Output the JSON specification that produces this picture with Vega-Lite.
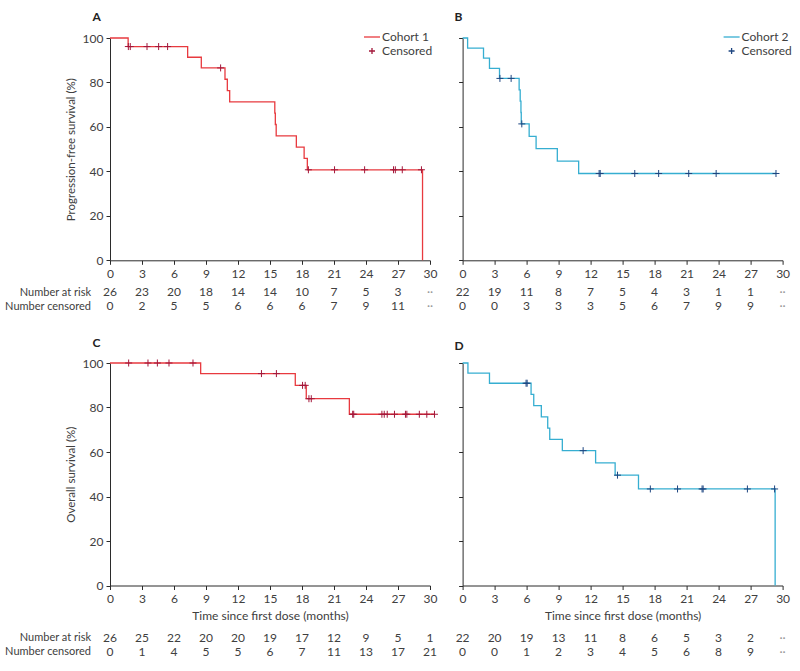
{
  "$schema": "https://vega.github.io/schema/vega-lite/v6.json",
  "padding": {"left": 4, "top": 11, "right": 5, "bottom": 5},
  "autosize": {"type": "pad"},
  "config": {
    "font": "Lato",
    "view": {"stroke": null},
    "axis": {"grid": false, "domainColor": "#2b2b2b", "tickColor": "#2b2b2b", "tickSize": 4, "labelFontSize": 12, "labelColor": "#404040", "titleFontSize": 12, "titleFontWeight": "normal", "titleColor": "#404040", "labelFont": "Lato", "titleFont": "Lato", "labelOverlap": false},
    "title": {"fontSize": 12, "fontWeight": "bold", "anchor": "start", "frame": "group", "color": "#222222", "font": "Lato"},
    "legend": {"labelFontSize": 12, "labelColor": "#404040", "symbolSize": 36, "symbolStrokeWidth": 1.3, "rowPadding": 2, "labelFont": "Lato"}
  },
  "datasets": {
    "A_curve": [
      {"t": 0, "s": 100}, {"t": 1.7, "s": 96.15}, {"t": 7.28, "s": 91.35}, {"t": 8.56, "s": 86.54},
      {"t": 10.78, "s": 81.45}, {"t": 11.0, "s": 76.36}, {"t": 11.22, "s": 71.27}, {"t": 15.45, "s": 66.18},
      {"t": 15.5, "s": 61.09}, {"t": 15.58, "s": 56.0}, {"t": 17.47, "s": 50.91}, {"t": 18.2, "s": 45.81},
      {"t": 18.5, "s": 40.72}, {"t": 29.3, "s": 0}
    ],
    "A_cens": [
      {"t": 1.72, "s": 96.15}, {"t": 1.9, "s": 96.15}, {"t": 3.47, "s": 96.15}, {"t": 4.56, "s": 96.15},
      {"t": 5.4, "s": 96.15}, {"t": 10.37, "s": 86.54}, {"t": 18.6, "s": 40.72}, {"t": 21.05, "s": 40.72},
      {"t": 23.87, "s": 40.72}, {"t": 26.58, "s": 40.72}, {"t": 26.75, "s": 40.72}, {"t": 27.4, "s": 40.72},
      {"t": 29.2, "s": 40.72}
    ],
    "B_curve": [
      {"t": 0, "s": 100}, {"t": 0.47, "s": 95.45}, {"t": 1.96, "s": 90.91}, {"t": 2.52, "s": 86.36},
      {"t": 3.46, "s": 81.82}, {"t": 5.3, "s": 76.7}, {"t": 5.4, "s": 71.59}, {"t": 5.47, "s": 66.48},
      {"t": 5.5, "s": 61.36}, {"t": 6.24, "s": 55.79}, {"t": 6.89, "s": 50.21}, {"t": 8.88, "s": 44.63},
      {"t": 10.88, "s": 39.05}, {"t": 29.38, "s": 39.05}
    ],
    "B_cens": [
      {"t": 3.5, "s": 81.82}, {"t": 4.55, "s": 81.82}, {"t": 5.55, "s": 61.36}, {"t": 12.8, "s": 39.05},
      {"t": 12.9, "s": 39.05}, {"t": 16.14, "s": 39.05}, {"t": 18.38, "s": 39.05}, {"t": 21.2, "s": 39.05},
      {"t": 23.77, "s": 39.05}, {"t": 29.38, "s": 39.05}
    ],
    "C_curve": [
      {"t": 0, "s": 100}, {"t": 8.5, "s": 95.24}, {"t": 17.37, "s": 89.95}, {"t": 18.4, "s": 83.95},
      {"t": 22.44, "s": 76.96}, {"t": 30.42, "s": 76.96}
    ],
    "C_cens": [
      {"t": 1.75, "s": 100}, {"t": 3.56, "s": 100}, {"t": 4.44, "s": 100}, {"t": 5.53, "s": 100},
      {"t": 7.78, "s": 100}, {"t": 14.2, "s": 95.24}, {"t": 15.6, "s": 95.24}, {"t": 18.05, "s": 89.95},
      {"t": 18.3, "s": 89.95}, {"t": 18.65, "s": 83.95}, {"t": 18.87, "s": 83.95}, {"t": 22.75, "s": 76.96},
      {"t": 22.85, "s": 76.96}, {"t": 25.49, "s": 76.96}, {"t": 25.71, "s": 76.96}, {"t": 25.99, "s": 76.96},
      {"t": 26.67, "s": 76.96}, {"t": 27.7, "s": 76.96}, {"t": 27.83, "s": 76.96}, {"t": 29.0, "s": 76.96},
      {"t": 29.7, "s": 76.96}, {"t": 30.42, "s": 76.96}
    ],
    "D_curve": [
      {"t": 0, "s": 100}, {"t": 0.5, "s": 95.45}, {"t": 2.52, "s": 90.91}, {"t": 6.42, "s": 85.86},
      {"t": 6.67, "s": 80.81}, {"t": 7.38, "s": 75.76}, {"t": 7.98, "s": 70.71}, {"t": 8.17, "s": 65.66},
      {"t": 9.35, "s": 60.61}, {"t": 12.47, "s": 55.1}, {"t": 14.3, "s": 49.59}, {"t": 16.49, "s": 43.39},
      {"t": 29.3, "s": 0}
    ],
    "D_cens": [
      {"t": 5.95, "s": 90.91}, {"t": 6.05, "s": 90.91}, {"t": 11.3, "s": 60.61}, {"t": 14.52, "s": 49.59},
      {"t": 17.6, "s": 43.39}, {"t": 20.15, "s": 43.39}, {"t": 22.45, "s": 43.39}, {"t": 22.55, "s": 43.39},
      {"t": 26.7, "s": 43.39}, {"t": 29.25, "s": 43.39}
    ],
    "A_table": [
      {"t": 0, "row": "Number at risk", "n": "26"}, {"t": 3, "row": "Number at risk", "n": "23"},
      {"t": 6, "row": "Number at risk", "n": "20"}, {"t": 9, "row": "Number at risk", "n": "18"},
      {"t": 12, "row": "Number at risk", "n": "14"}, {"t": 15, "row": "Number at risk", "n": "14"},
      {"t": 18, "row": "Number at risk", "n": "10"}, {"t": 21, "row": "Number at risk", "n": "7"},
      {"t": 24, "row": "Number at risk", "n": "5"}, {"t": 27, "row": "Number at risk", "n": "3"},
      {"t": 30, "row": "Number at risk", "n": "··"},
      {"t": 0, "row": "Number censored", "n": "0"}, {"t": 3, "row": "Number censored", "n": "2"},
      {"t": 6, "row": "Number censored", "n": "5"}, {"t": 9, "row": "Number censored", "n": "5"},
      {"t": 12, "row": "Number censored", "n": "6"}, {"t": 15, "row": "Number censored", "n": "6"},
      {"t": 18, "row": "Number censored", "n": "6"}, {"t": 21, "row": "Number censored", "n": "7"},
      {"t": 24, "row": "Number censored", "n": "9"}, {"t": 27, "row": "Number censored", "n": "11"},
      {"t": 30, "row": "Number censored", "n": "··"}
    ],
    "B_table": [
      {"t": 0, "row": "Number at risk", "n": "22"}, {"t": 3, "row": "Number at risk", "n": "19"},
      {"t": 6, "row": "Number at risk", "n": "11"}, {"t": 9, "row": "Number at risk", "n": "8"},
      {"t": 12, "row": "Number at risk", "n": "7"}, {"t": 15, "row": "Number at risk", "n": "5"},
      {"t": 18, "row": "Number at risk", "n": "4"}, {"t": 21, "row": "Number at risk", "n": "3"},
      {"t": 24, "row": "Number at risk", "n": "1"}, {"t": 27, "row": "Number at risk", "n": "1"},
      {"t": 30, "row": "Number at risk", "n": "··"},
      {"t": 0, "row": "Number censored", "n": "0"}, {"t": 3, "row": "Number censored", "n": "0"},
      {"t": 6, "row": "Number censored", "n": "3"}, {"t": 9, "row": "Number censored", "n": "3"},
      {"t": 12, "row": "Number censored", "n": "3"}, {"t": 15, "row": "Number censored", "n": "5"},
      {"t": 18, "row": "Number censored", "n": "6"}, {"t": 21, "row": "Number censored", "n": "7"},
      {"t": 24, "row": "Number censored", "n": "9"}, {"t": 27, "row": "Number censored", "n": "9"},
      {"t": 30, "row": "Number censored", "n": "··"}
    ],
    "C_table": [
      {"t": 0, "row": "Number at risk", "n": "26"}, {"t": 3, "row": "Number at risk", "n": "25"},
      {"t": 6, "row": "Number at risk", "n": "22"}, {"t": 9, "row": "Number at risk", "n": "20"},
      {"t": 12, "row": "Number at risk", "n": "20"}, {"t": 15, "row": "Number at risk", "n": "19"},
      {"t": 18, "row": "Number at risk", "n": "17"}, {"t": 21, "row": "Number at risk", "n": "12"},
      {"t": 24, "row": "Number at risk", "n": "9"}, {"t": 27, "row": "Number at risk", "n": "5"},
      {"t": 30, "row": "Number at risk", "n": "1"},
      {"t": 0, "row": "Number censored", "n": "0"}, {"t": 3, "row": "Number censored", "n": "1"},
      {"t": 6, "row": "Number censored", "n": "4"}, {"t": 9, "row": "Number censored", "n": "5"},
      {"t": 12, "row": "Number censored", "n": "5"}, {"t": 15, "row": "Number censored", "n": "6"},
      {"t": 18, "row": "Number censored", "n": "7"}, {"t": 21, "row": "Number censored", "n": "11"},
      {"t": 24, "row": "Number censored", "n": "13"}, {"t": 27, "row": "Number censored", "n": "17"},
      {"t": 30, "row": "Number censored", "n": "21"}
    ],
    "D_table": [
      {"t": 0, "row": "Number at risk", "n": "22"}, {"t": 3, "row": "Number at risk", "n": "20"},
      {"t": 6, "row": "Number at risk", "n": "19"}, {"t": 9, "row": "Number at risk", "n": "13"},
      {"t": 12, "row": "Number at risk", "n": "11"}, {"t": 15, "row": "Number at risk", "n": "8"},
      {"t": 18, "row": "Number at risk", "n": "6"}, {"t": 21, "row": "Number at risk", "n": "5"},
      {"t": 24, "row": "Number at risk", "n": "3"}, {"t": 27, "row": "Number at risk", "n": "2"},
      {"t": 30, "row": "Number at risk", "n": "··"},
      {"t": 0, "row": "Number censored", "n": "0"}, {"t": 3, "row": "Number censored", "n": "0"},
      {"t": 6, "row": "Number censored", "n": "1"}, {"t": 9, "row": "Number censored", "n": "2"},
      {"t": 12, "row": "Number censored", "n": "3"}, {"t": 15, "row": "Number censored", "n": "4"},
      {"t": 18, "row": "Number censored", "n": "5"}, {"t": 21, "row": "Number censored", "n": "6"},
      {"t": 24, "row": "Number censored", "n": "8"}, {"t": 27, "row": "Number censored", "n": "9"},
      {"t": 30, "row": "Number censored", "n": "··"}
    ]
  },
  "columns": 2,
  "bounds": "flush",
  "spacing": {"row": 20, "column": 32.6},
  "resolve": {"scale": {"color": "independent", "shape": "independent", "x": "independent", "y": "independent"}},
  "concat": [
    {
      "width": 320, "height": 222.3,
      "title": {"text": "A", "dx": -17.4, "offset": 7},
      "layer": [
        {
          "data": {"name": "A_curve"},
          "mark": {"type": "line", "interpolate": "step-after", "strokeWidth": 1.3},
          "encoding": {
            "x": {"field": "t", "type": "quantitative", "scale": {"domain": [0, 30], "nice": false}, "axis": {"values": [0, 3, 6, 9, 12, 15, 18, 21, 24, 27, 30], "tickCount": 12, "title": null, "labelPadding": 4, "labelFlush": false, "labelOverlap": false}},
            "y": {"field": "s", "type": "quantitative", "scale": {"domain": [0, 100]}, "axis": {"values": [0, 20, 40, 60, 80, 100], "tickCount": 6, "title": "Progression-free survival (%)", "titlePadding": 6, "labelPadding": 3, "titleFontSize": 11.5, "labelOverlap": false}},
            "color": {"datum": "Cohort 1", "scale": {"domain": ["Cohort 1", "Censored"], "range": ["#e83a3f", "#a3173a"]}, "legend": {"title": null, "orient": "none", "legendX": 256, "legendY": -7}}
          }
        },
        {
          "data": {"name": "A_cens"},
          "mark": {"type": "point", "filled": false, "size": 49, "strokeWidth": 1, "opacity": 1},
          "encoding": {
            "x": {"field": "t", "type": "quantitative"},
            "y": {"field": "s", "type": "quantitative"},
            "color": {"datum": "Censored"},
            "shape": {"datum": "Censored", "scale": {"domain": ["Cohort 1", "Censored"], "range": ["M-2.67,0H2.67", "M-1,0H1M0,-1V1"]}, "legend": {"title": null, "orient": "none", "legendX": 256, "legendY": -7}}
          }
        }
      ]
    },
    {
      "width": 320, "height": 222.3,
      "title": {"text": "B", "dx": -8, "offset": 7},
      "layer": [
        {
          "data": {"name": "B_curve"},
          "mark": {"type": "line", "interpolate": "step-after", "strokeWidth": 1.3},
          "encoding": {
            "x": {"field": "t", "type": "quantitative", "scale": {"domain": [0, 30], "nice": false}, "axis": {"values": [0, 3, 6, 9, 12, 15, 18, 21, 24, 27, 30], "tickCount": 12, "title": null, "labelPadding": 4, "labelFlush": false, "labelOverlap": false}},
            "y": {"field": "s", "type": "quantitative", "scale": {"domain": [0, 100]}, "axis": {"values": [0, 20, 40, 60, 80, 100], "tickCount": 6, "title": null, "labels": false}},
            "color": {"datum": "Cohort 2", "scale": {"domain": ["Cohort 2", "Censored"], "range": ["#36aed1", "#1d4580"]}, "legend": {"title": null, "orient": "none", "legendX": 263, "legendY": -7}}
          }
        },
        {
          "data": {"name": "B_cens"},
          "mark": {"type": "point", "filled": false, "size": 49, "strokeWidth": 1, "opacity": 1},
          "encoding": {
            "x": {"field": "t", "type": "quantitative"},
            "y": {"field": "s", "type": "quantitative"},
            "color": {"datum": "Censored"},
            "shape": {"datum": "Censored", "scale": {"domain": ["Cohort 2", "Censored"], "range": ["M-2.67,0H2.67", "M-1,0H1M0,-1V1"]}, "legend": {"title": null, "orient": "none", "legendX": 263, "legendY": -7}}
          }
        }
      ]
    },
    {
      "width": 320, "height": 62,
      "data": {"name": "A_table"},
      "mark": {"type": "text", "fontSize": 12, "font": "Lato"},
      "encoding": {
        "x": {"field": "t", "type": "quantitative", "scale": {"domain": [0, 30], "nice": false}, "axis": null},
        "y": {"field": "row", "type": "nominal", "sort": ["Number at risk", "Number censored"], "scale": {"type": "point", "range": [11, 25.4], "padding": 0}, "axis": {"title": null, "domain": false, "ticks": false, "labelPadding": 19.5, "labelFontSize": 11}},
        "text": {"field": "n"},
        "color": {"condition": {"test": "datum.n == '··'", "value": "#999999"}, "value": "#404040"}
      }
    },
    {
      "width": 320, "height": 62,
      "data": {"name": "B_table"},
      "mark": {"type": "text", "fontSize": 12, "font": "Lato"},
      "encoding": {
        "x": {"field": "t", "type": "quantitative", "scale": {"domain": [0, 30], "nice": false}, "axis": null},
        "y": {"field": "row", "type": "nominal", "sort": ["Number at risk", "Number censored"], "scale": {"type": "point", "range": [11, 25.4], "padding": 0}, "axis": null},
        "text": {"field": "n"},
        "color": {"condition": {"test": "datum.n == '··'", "value": "#999999"}, "value": "#404040"}
      }
    },
    {
      "width": 320, "height": 222.5,
      "title": {"text": "C", "dx": -17.4, "offset": 7},
      "layer": [
        {
          "data": {"name": "C_curve"},
          "mark": {"type": "line", "interpolate": "step-after", "strokeWidth": 1.3, "color": "#e83a3f"},
          "encoding": {
            "x": {"field": "t", "type": "quantitative", "scale": {"domain": [0, 30], "nice": false}, "axis": {"values": [0, 3, 6, 9, 12, 15, 18, 21, 24, 27, 30], "tickCount": 12, "title": "Time since first dose (months)", "titlePadding": 6, "labelPadding": 4, "labelFlush": false, "labelOverlap": false}},
            "y": {"field": "s", "type": "quantitative", "scale": {"domain": [0, 100]}, "axis": {"values": [0, 20, 40, 60, 80, 100], "tickCount": 6, "title": "Overall survival (%)", "titlePadding": 6, "labelPadding": 3, "titleFontSize": 11.5, "labelOverlap": false}}
          }
        },
        {
          "data": {"name": "C_cens"},
          "mark": {"type": "point", "filled": false, "size": 49, "strokeWidth": 1, "opacity": 1, "color": "#a3173a", "shape": "M-1,0H1M0,-1V1"},
          "encoding": {
            "x": {"field": "t", "type": "quantitative"},
            "y": {"field": "s", "type": "quantitative"}
          }
        }
      ]
    },
    {
      "width": 320, "height": 222.5,
      "title": {"text": "D", "dx": -8, "offset": 7},
      "layer": [
        {
          "data": {"name": "D_curve"},
          "mark": {"type": "line", "interpolate": "step-after", "strokeWidth": 1.3, "color": "#36aed1"},
          "encoding": {
            "x": {"field": "t", "type": "quantitative", "scale": {"domain": [0, 30], "nice": false}, "axis": {"values": [0, 3, 6, 9, 12, 15, 18, 21, 24, 27, 30], "tickCount": 12, "title": "Time since first dose (months)", "titlePadding": 6, "labelPadding": 4, "labelFlush": false, "labelOverlap": false}},
            "y": {"field": "s", "type": "quantitative", "scale": {"domain": [0, 100]}, "axis": {"values": [0, 20, 40, 60, 80, 100], "tickCount": 6, "title": null, "labels": false}}
          }
        },
        {
          "data": {"name": "D_cens"},
          "mark": {"type": "point", "filled": false, "size": 49, "strokeWidth": 1, "opacity": 1, "color": "#1d4580", "shape": "M-1,0H1M0,-1V1"},
          "encoding": {
            "x": {"field": "t", "type": "quantitative"},
            "y": {"field": "s", "type": "quantitative"}
          }
        }
      ]
    },
    {
      "width": 320, "height": 50,
      "data": {"name": "C_table"},
      "mark": {"type": "text", "fontSize": 12, "font": "Lato"},
      "encoding": {
        "x": {"field": "t", "type": "quantitative", "scale": {"domain": [0, 30], "nice": false}, "axis": null},
        "y": {"field": "row", "type": "nominal", "sort": ["Number at risk", "Number censored"], "scale": {"type": "point", "range": [31.5, 45.9], "padding": 0}, "axis": {"title": null, "domain": false, "ticks": false, "labelPadding": 19.5, "labelFontSize": 11}},
        "text": {"field": "n"},
        "color": {"condition": {"test": "datum.n == '··'", "value": "#999999"}, "value": "#404040"}
      }
    },
    {
      "width": 320, "height": 50,
      "data": {"name": "D_table"},
      "mark": {"type": "text", "fontSize": 12, "font": "Lato"},
      "encoding": {
        "x": {"field": "t", "type": "quantitative", "scale": {"domain": [0, 30], "nice": false}, "axis": null},
        "y": {"field": "row", "type": "nominal", "sort": ["Number at risk", "Number censored"], "scale": {"type": "point", "range": [31.5, 45.9], "padding": 0}, "axis": null},
        "text": {"field": "n"},
        "color": {"condition": {"test": "datum.n == '··'", "value": "#999999"}, "value": "#404040"}
      }
    }
  ]
}
